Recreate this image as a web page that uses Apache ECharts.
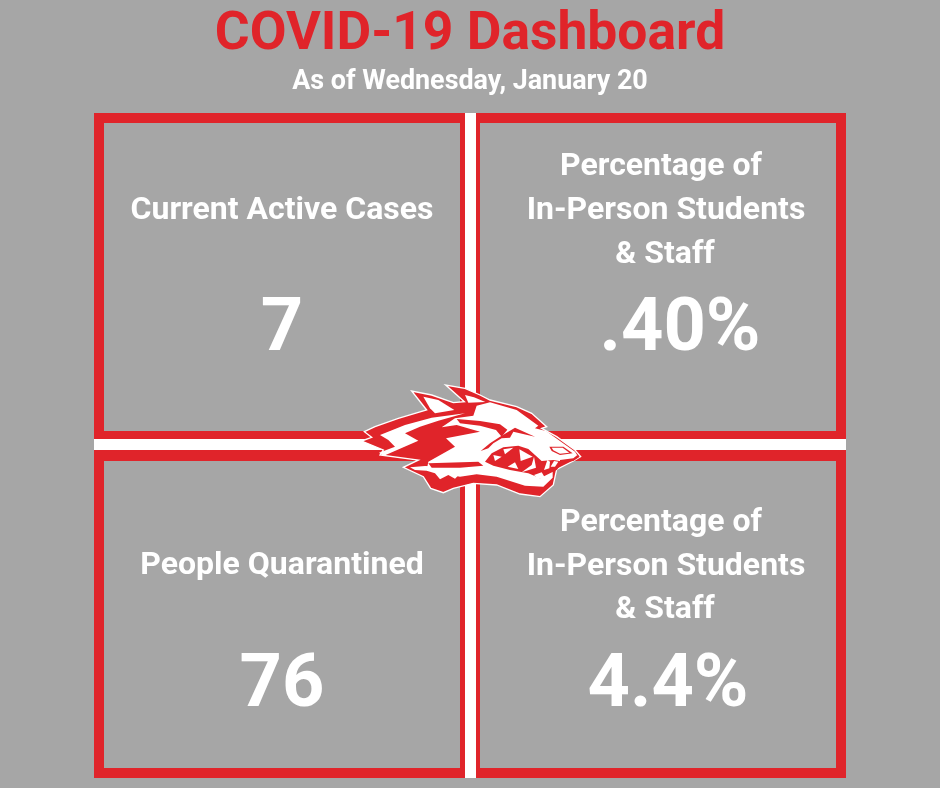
<!DOCTYPE html>
<html>
<head>
<meta charset="utf-8">
<style>html,body{margin:0;padding:0;background:#a6a6a6}#main{width:940px;height:788px}</style>
<script src="https://cdn.jsdelivr.net/npm/echarts@6/dist/echarts.min.js"></script>
</head>
<body>
<div id="main"></div>
<script>
var titleText = 'COVID-19 Dashboard';
var subtitleText = 'As of Wednesday, January 20';
var activeLabel = ['Current Active Cases'];
var quarantineLabel = ['People Quarantined'];
var percentLabel = ['Percentage of', 'In-Person Students', '& Staff'];
var cardValues = ['7', '.40%', '76', '4.4%'];

var RED = '#e0242a', WHITE = '#ffffff', GREY = '#a6a6a6', FONT = 'Roboto';

var myChart = echarts.init(document.getElementById('main'));

function txt(s, x, y, size, color, weight) {
  return {type: 'text', x: x, y: y, z: 5,
    style: {text: s, fill: color || WHITE, font: (weight || 700) + ' ' + size + 'px ' + FONT, align: 'center', verticalAlign: 'middle'}};
}
function box(x, y, w, h, color, z) {
  return {type: 'rect', shape: {x: x, y: y, width: w, height: h}, z: z || 1, style: {fill: color}};
}
// z has to sit on each child, the group does not pass it on
function poly(points, color) {
  return {type: 'polygon', z: 4, shape: {points: points}, style: {fill: color}};
}

var wolfBack = {type: 'group', x: 355, y: 380, scaleX: 1 / 3, scaleY: 1 / 3, children: [
  {type: 'polygon', z: 4,
    shape: {points: [[20,183],[50,172],[28,155],[60,140],[130,115],[215,90],[170,33],[230,45],[295,68],[328,65],[272,15],[330,25],[375,45],[405,60],[485,80],[530,100],[575,140],[560,145],[605,170],[660,210],[677,230],[655,243],[605,268],[595,315],[555,350],[495,342],[425,315],[355,310],[295,325],[265,338],[227,325],[205,290],[145,262],[190,240],[75,225],[85,210]]},
    style: {fill: RED, stroke: WHITE, lineWidth: 4}},
  // ears
  poly([[205,50],[250,60],[298,90],[240,100],[225,85]], WHITE),
  poly([[330,45],[357,52],[391,66],[340,68]], WHITE),
  // long flame
  poly([[75,165],[150,135],[230,113],[330,100],[250,122],[195,140],[150,160],[190,182],[85,228],[72,218],[120,200],[100,180]], WHITE),
  // lower fur
  poly([[165,262],[210,258],[315,262],[375,270],[400,285],[375,280],[318,278],[300,296],[280,285],[255,298],[240,280],[215,272],[180,270]], WHITE)
]};

var wolfHead = {type: 'group', x: 460, y: 395, scaleX: 1 / 3, scaleY: 1 / 3, children: [
  poly([[50,32],[90,22],[170,45],[235,92],[225,100],[258,108],[345,170],[355,186],[335,196],[290,200],[278,225],[278,248],[250,275],[195,272],[110,245],[50,238],[0,245],[-100,225],[-95,200],[-15,155],[-42,130],[60,110],[-10,90],[-55,97],[-15,70],[40,62]], WHITE),
  // ridge over the eye
  poly([[-10,72],[60,78],[120,88],[142,104],[125,125],[108,105],[60,92],[0,85]], RED),
  // brow
  poly([[62,168],[90,145],[120,125],[165,98],[225,125],[160,110],[150,128],[125,130],[100,145],[85,160]], RED),
  // band under the flames
  poly([[-95,205],[55,200],[70,212],[0,218],[-85,218]], RED),
  // mouth
  poly([[75,200],[95,175],[130,157],[175,152],[205,162],[225,180],[245,198],[280,195],[310,200],[290,225],[270,235],[240,250],[205,235],[150,225],[100,212]], RED),
  // teeth
  poly([[130,163],[160,158],[135,178]], WHITE),
  poly([[178,163],[218,185],[182,198]], WHITE),
  poly([[100,180],[125,185],[105,198]], WHITE),
  poly([[143,215],[165,202],[175,222]], WHITE),
  poly([[185,232],[215,210],[222,185],[228,218]], WHITE),
  poly([[222,240],[245,232],[255,248],[232,250]], WHITE),
  poly([[252,225],[262,195],[270,200],[268,220]], WHITE),
  poly([[272,215],[282,198],[295,200],[285,215]], WHITE),
  // nose
  poly([[268,155],[310,155],[338,175],[300,180],[275,168]], RED),
  poly([[275,158],[308,158],[328,173],[300,176],[280,166]], WHITE),
  // line under the nose
  poly([[300,195],[340,190],[352,180],[358,186],[340,198],[300,203]], RED)
]};

var graphics = [
  box(0, 0, 940, 788, GREY, 0),
  // four red frames
  box(94, 113, 752, 10, RED), box(94, 768, 752, 10, RED),
  box(94, 113, 10, 665, RED), box(836, 113, 10, 665, RED),
  box(460, 113, 20, 665, RED), box(94, 431, 752, 30, RED),
  // white cross
  box(465, 113, 11, 665, WHITE, 2), box(94, 439, 752, 11, WHITE, 2),
  txt(titleText, 470, 36, 53.4, RED),
  txt(subtitleText, 470, 82, 26.9),
  txt(activeLabel[0], 282, 211, 32),
  txt(quarantineLabel[0], 282, 566, 32),
  txt(percentLabel[0], 661, 167, 32), txt(percentLabel[1], 666, 211, 32), txt(percentLabel[2], 665, 255, 32),
  txt(percentLabel[0], 661, 523, 32), txt(percentLabel[1], 666, 567, 32), txt(percentLabel[2], 665, 610, 32),
  txt(cardValues[0], 282, 331, 74),
  txt(cardValues[1], 680, 331, 74),
  txt(cardValues[2], 282, 687, 74),
  txt(cardValues[3], 668, 687, 74),
  wolfBack,
  wolfHead
];

option = {
  backgroundColor: GREY,
  animation: false,
  graphic: {elements: graphics}
};
myChart.setOption(option);
</script>
</body>
</html>
